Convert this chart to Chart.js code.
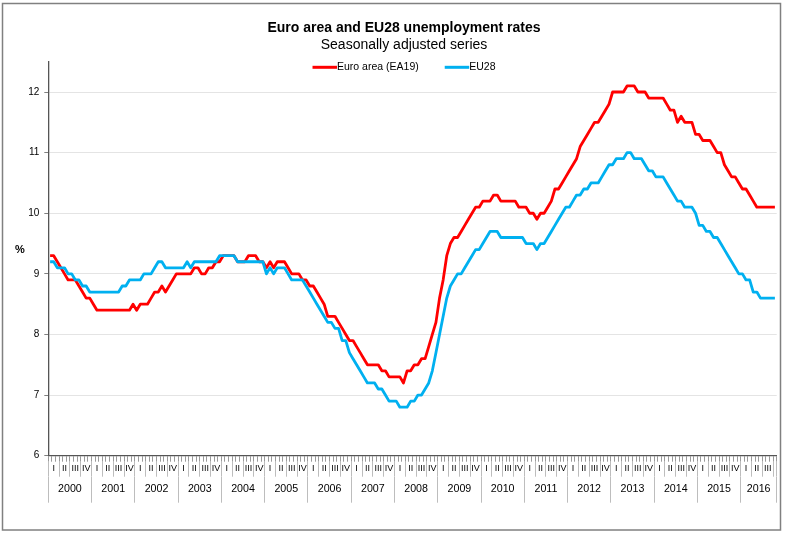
<!DOCTYPE html>
<html>
<head>
<meta charset="utf-8">
<script src="https://cdn.jsdelivr.net/npm/chart.js@4.4.1/dist/chart.umd.min.js"></script>
<style>
html,body{margin:0;padding:0;background:#fff;}
canvas{display:block;}
</style>
</head>
<body>
<canvas id="c" width="786" height="534"></canvas>
<script>
// ---- data ----
const yearLabels = ['2000','2001','2002','2003','2004','2005','2006','2007','2008','2009','2010','2011','2012','2013','2014','2015','2016'];
const quarterLabels = ['I','II','III','IV'];
const monthNames = ['Jan','Feb','Mar','Apr','May','Jun','Jul','Aug','Sep','Oct','Nov','Dec'];
const seriesLabels = ['Euro area (EA19)', 'EU28'];

const ea19 = [
  9.3, 9.3, 9.2, 9.1, 9.0, 8.9, 8.9, 8.9, 8.8, 8.7, 8.6, 8.6,
  8.5, 8.4, 8.4, 8.4, 8.4, 8.4, 8.4, 8.4, 8.4, 8.4, 8.4, 8.5,
  8.4, 8.5, 8.5, 8.5, 8.6, 8.7, 8.7, 8.8, 8.7, 8.8, 8.9, 9.0,
  9.0, 9.0, 9.0, 9.0, 9.1, 9.1, 9.0, 9.0, 9.1, 9.1, 9.2, 9.2,
  9.3, 9.3, 9.3, 9.3, 9.2, 9.2, 9.2, 9.3, 9.3, 9.3, 9.2, 9.2,
  9.1, 9.2, 9.1, 9.2, 9.2, 9.2, 9.1, 9.0, 9.0, 9.0, 8.9, 8.9,
  8.8, 8.8, 8.7, 8.6, 8.5, 8.3, 8.3, 8.3, 8.2, 8.1, 8.0, 7.9,
  7.9, 7.8, 7.7, 7.6, 7.5, 7.5, 7.5, 7.5, 7.4, 7.4, 7.3, 7.3,
  7.3, 7.3, 7.2, 7.4, 7.4, 7.5, 7.5, 7.6, 7.6, 7.8, 8.0, 8.2,
  8.6, 8.9, 9.3, 9.5, 9.6, 9.6, 9.7, 9.8, 9.9, 10.0, 10.1, 10.1,
  10.2, 10.2, 10.2, 10.3, 10.3, 10.2, 10.2, 10.2, 10.2, 10.2, 10.1, 10.1,
  10.1, 10.0, 10.0, 9.9, 10.0, 10.0, 10.1, 10.2, 10.4, 10.4, 10.5, 10.6,
  10.7, 10.8, 10.9, 11.1, 11.2, 11.3, 11.4, 11.5, 11.5, 11.6, 11.7, 11.8,
  12.0, 12.0, 12.0, 12.0, 12.1, 12.1, 12.1, 12.0, 12.0, 12.0, 11.9, 11.9,
  11.9, 11.9, 11.9, 11.8, 11.7, 11.7, 11.5, 11.6, 11.5, 11.5, 11.5, 11.3,
  11.3, 11.2, 11.2, 11.2, 11.1, 11.0, 11.0, 10.8, 10.7, 10.6, 10.6, 10.5,
  10.4, 10.4, 10.3, 10.2, 10.1, 10.1, 10.1, 10.1, 10.1, 10.1
];

const eu28 = [
  9.2, 9.2, 9.1, 9.1, 9.1, 9.0, 9.0, 8.9, 8.9, 8.8, 8.8, 8.7,
  8.7, 8.7, 8.7, 8.7, 8.7, 8.7, 8.7, 8.7, 8.8, 8.8, 8.9, 8.9,
  8.9, 8.9, 9.0, 9.0, 9.0, 9.1, 9.2, 9.2, 9.1, 9.1, 9.1, 9.1,
  9.1, 9.1, 9.2, 9.1, 9.2, 9.2, 9.2, 9.2, 9.2, 9.2, 9.2, 9.3,
  9.3, 9.3, 9.3, 9.3, 9.2, 9.2, 9.2, 9.2, 9.2, 9.2, 9.2, 9.2,
  9.0, 9.1, 9.0, 9.1, 9.1, 9.1, 9.0, 8.9, 8.9, 8.9, 8.9, 8.8,
  8.7, 8.6, 8.5, 8.4, 8.3, 8.2, 8.2, 8.1, 8.1, 7.9, 7.9, 7.7,
  7.6, 7.5, 7.4, 7.3, 7.2, 7.2, 7.2, 7.1, 7.1, 7.0, 6.9, 6.9,
  6.9, 6.8, 6.8, 6.8, 6.9, 6.9, 7.0, 7.0, 7.1, 7.2, 7.4, 7.7,
  8.0, 8.3, 8.6, 8.8, 8.9, 9.0, 9.0, 9.1, 9.2, 9.3, 9.4, 9.4,
  9.5, 9.6, 9.7, 9.7, 9.7, 9.6, 9.6, 9.6, 9.6, 9.6, 9.6, 9.6,
  9.5, 9.5, 9.5, 9.4, 9.5, 9.5, 9.6, 9.7, 9.8, 9.9, 10.0, 10.1,
  10.1, 10.2, 10.3, 10.3, 10.4, 10.4, 10.5, 10.5, 10.5, 10.6, 10.7, 10.8,
  10.8, 10.9, 10.9, 10.9, 11.0, 11.0, 10.9, 10.9, 10.9, 10.8, 10.7, 10.7,
  10.6, 10.6, 10.6, 10.5, 10.4, 10.3, 10.2, 10.2, 10.1, 10.1, 10.1, 10.0,
  9.8, 9.8, 9.7, 9.7, 9.6, 9.6, 9.5, 9.4, 9.3, 9.2, 9.1, 9.0,
  9.0, 8.9, 8.9, 8.7, 8.7, 8.6, 8.6, 8.6, 8.6, 8.6
];

// month categories (one per observation)
const months = [];
yearLabels.forEach(y => monthNames.forEach(m => { if (months.length < ea19.length) months.push(m + ' ' + y); }));

// ---- layout / style ----
const FONT = "'Liberation Sans', Arial, Helvetica, sans-serif";
const PAD_L = 24, PAD_R = 2, PAD_B = 31.3;

// group ticks (separators at boundaries, labels at group centres)
function groupTicks(size, labelFor) {
  const n = months.length, ticks = [];
  for (let s = 0, k = 0; s < n; s += size, k++) {
    const e = Math.min(s + size, n);
    ticks.push({ value: s - 0.5, sep: true, txt: '' });
    const txt = labelFor(k, e - s === size);
    if (txt) ticks.push({ value: (s + e - 1) / 2, sep: false, txt: txt });
  }
  ticks.push({ value: n - 0.5, sep: true, txt: '' });
  return ticks;
}

const sepColor = c => (c.tick && c.tick.sep) ? '#bdbdbd' : 'rgba(0,0,0,0)';

const decor = {
  id: 'decor',
  beforeDraw(chart) {
    const ctx = chart.ctx;
    ctx.save();
    ctx.fillStyle = '#fff';
    ctx.fillRect(0, 0, chart.width, chart.height);
    ctx.restore();
  },
  afterDraw(chart) {
    const ctx = chart.ctx, a = chart.chartArea;
    ctx.save();
    // legend
    ctx.font = '10.5px ' + FONT;
    const ds = chart.data.datasets;
    const lineLen = 24.5, gap = 26;
    const widths = ds.map(d => lineLen + ctx.measureText(d.label).width);
    const total = widths.reduce((s, w) => s + w, 0) + gap * (ds.length - 1);
    let x = (PAD_L + chart.width - PAD_R) / 2 - total / 2;
    const y = a.top + 5.6;
    ds.forEach((d, i) => {
      ctx.strokeStyle = d.borderColor;
      ctx.lineWidth = 3;
      ctx.beginPath();
      ctx.moveTo(x, y);
      ctx.lineTo(x + lineLen, y);
      ctx.stroke();
      ctx.fillStyle = '#000';
      ctx.textBaseline = 'middle';
      ctx.textAlign = 'left';
      ctx.fillText(d.label, x + lineLen, y);
      x += widths[i] + gap;
    });
    // y unit
    ctx.font = 'bold 11px ' + FONT;
    ctx.textAlign = 'center';
    ctx.fillStyle = '#000';
    ctx.fillText('%', 20, 250);
    // outer frame
    ctx.strokeStyle = '#808080';
    ctx.lineWidth = 1.5;
    ctx.strokeRect(2.5, 3.5, 778, 526.5);
    ctx.restore();
  }
};

new Chart(document.getElementById('c'), {
  type: 'line',
  data: {
    labels: months,
    datasets: [
      { label: seriesLabels[0], data: ea19, borderColor: '#ff0000', backgroundColor: '#ff0000',
        borderWidth: 2.8, pointRadius: 0, tension: 0, fill: false, order: 2, borderJoinStyle: 'round' },
      { label: seriesLabels[1], data: eu28, borderColor: '#00b0f0', backgroundColor: '#00b0f0',
        borderWidth: 2.8, pointRadius: 0, tension: 0, fill: false, order: 1, borderJoinStyle: 'round' }
    ]
  },
  options: {
    responsive: false,
    animation: false,
    events: [],
    layout: { padding: { left: PAD_L, right: PAD_R, top: 0, bottom: PAD_B } },
    plugins: {
      legend: { display: false },
      tooltip: { enabled: false },
      title: {
        display: true, text: 'Euro area and EU28 unemployment rates', color: '#000',
        font: { family: FONT, size: 14, weight: 'bold', lineHeight: 1.2 },
        padding: { top: 20, bottom: 0 }
      },
      subtitle: {
        display: true, text: 'Seasonally adjusted series', color: '#000',
        font: { family: FONT, size: 14, weight: 'normal', lineHeight: 1.2 },
        padding: { top: 0, bottom: 8.1 }
      }
    },
    scales: {
      y: {
        position: 'left', min: 6, max: 12.5,
        afterBuildTicks: s => { s.ticks = s.ticks.filter(t => Number.isInteger(t.value)); },
        afterFit: s => { s.width = 48.3 - PAD_L; },
        ticks: { stepSize: 1, padding: 5, color: '#000', font: { family: FONT, size: 10 } },
        grid: { color: '#e4e4e4', lineWidth: 1, tickLength: 4, tickColor: '#808080' },
        border: { color: '#555', width: 1.3 }
      },
      yr: {
        type: 'linear', position: 'right', display: true,
        afterFit: s => { s.width = 786 - PAD_R - 776.7; },
        ticks: { display: false },
        grid: { display: false },
        border: { display: false }
      },
      x: {
        type: 'category', position: 'bottom', weight: 1, offset: true,
        afterFit: s => { s.height = 6; },
        ticks: { display: false, autoSkip: false },
        grid: { offset: true, drawOnChartArea: false, tickLength: 6, tickColor: '#9a9a9a', lineWidth: 1 },
        border: { color: '#555', width: 1.3 }
      },
      xq: {
        type: 'linear', position: 'bottom', weight: 2, bounds: 'data',
        min: -0.5, max: months.length - 0.5,
        afterBuildTicks: s => { s.ticks = groupTicks(3, (k, full) => full ? quarterLabels[k % 4] : ''); },
        afterFit: s => { s.height = 15; },
        ticks: { autoSkip: false, maxRotation: 0, minRotation: 0, padding: -13.8, color: '#000',
                 font: { family: FONT, size: 9 }, callback: (v, i, t) => t[i].txt },
        grid: { drawOnChartArea: false, tickLength: 15, tickColor: sepColor, lineWidth: 1 },
        border: { display: false }
      },
      xy: {
        type: 'linear', position: 'bottom', weight: 3, bounds: 'data',
        min: -0.5, max: months.length - 0.5,
        afterBuildTicks: s => { s.ticks = groupTicks(12, k => yearLabels[k]); },
        afterFit: s => { s.height = 26; },
        ticks: { autoSkip: false, maxRotation: 0, minRotation: 0, padding: -19.9, color: '#000',
                 font: { family: FONT, size: 10.67 }, callback: (v, i, t) => t[i].txt },
        grid: { drawOnChartArea: false, tickLength: 26, tickColor: sepColor, lineWidth: 1 },
        border: { display: false }
      }
    }
  },
  plugins: [decor]
});
</script>
</body>
</html>
